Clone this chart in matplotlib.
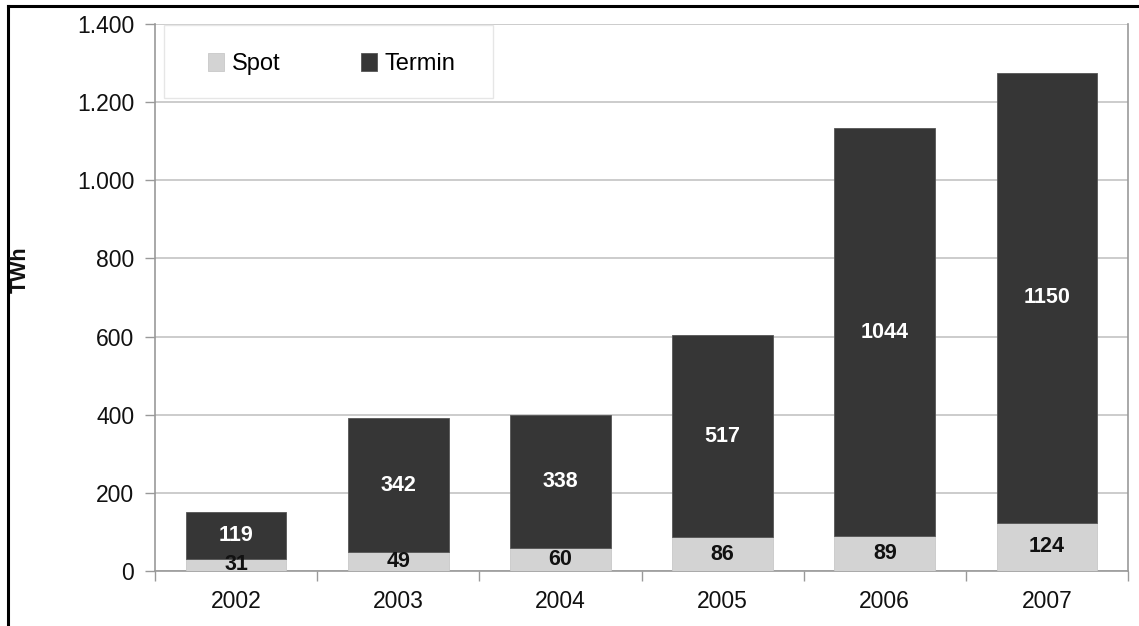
import matplotlib
matplotlib.use("Agg")
import matplotlib.pyplot as plt
from matplotlib.patches import Rectangle
from matplotlib.lines import Line2D
from matplotlib.ticker import FuncFormatter, FixedLocator

years = ["2002", "2003", "2004", "2005", "2006", "2007"]
spot = [31, 49, 60, 86, 89, 124]
termin = [119, 342, 338, 517, 1044, 1150]
yticks = [0, 200, 400, 600, 800, 1000, 1200, 1400]

plt.rcParams['font.family'] = ['Liberation Sans', 'DejaVu Sans']

W, H = 1139, 626
fig = plt.figure(figsize=(W / 100, H / 100), dpi=100)
ax = fig.add_axes([155 / W, 1 - 571 / H, (1128 - 155) / W, (571 - 24) / H])

spot_c = "#d3d3d3"
term_c = "#363636"
x = list(range(len(years)))
bw = 0.62
b1 = ax.bar(x, spot, width=bw, color=spot_c, edgecolor="#c8c8c8", linewidth=0.6, zorder=3, label="Spot")
b2 = ax.bar(x, termin, width=bw, bottom=spot, color=term_c, edgecolor="#555555", linewidth=0.6, zorder=3, label="Termin")

for i in x:
    ax.text(i, spot[i] / 2, str(spot[i]), ha="center", va="center", fontsize=15.5,
            fontweight="bold", color="#111111", zorder=4)
    ax.text(i, spot[i] + termin[i] / 2, str(termin[i]), ha="center", va="center",
            fontsize=15.5, fontweight="bold", color="white", zorder=4)

ax.set_xlim(-0.5, len(years) - 0.5)
ax.set_ylim(0, 1400)
ax.yaxis.set_major_locator(FixedLocator(yticks))
ax.yaxis.set_major_formatter(FuncFormatter(lambda v, p: f"{int(v):,}".replace(",", ".")))
ax.grid(axis="y", color="#c4c4c4", linewidth=1.2, zorder=0)
ax.set_axisbelow(True)

ax.set_xticks(x)
ax.set_xticklabels(years)
ax.tick_params(axis="x", length=0, labelsize=16.5, pad=14, colors="#111111")
ax.set_xticks([i + 0.5 for i in range(-1, len(years))], minor=True)
ax.tick_params(axis="x", which="minor", length=7, width=1, color="#999999")
ax.tick_params(axis="y", length=7, width=1, color="#999999", labelsize=16.5, labelcolor="#111111", pad=8)

for s in ["left", "bottom", "right", "top"]:
    ax.spines[s].set_color("#999999")
    ax.spines[s].set_linewidth(1.2)
ax.spines["top"].set_visible(False)

fig.text(20 / W, 1 - 270 / H, "TWh", rotation=90, ha="center", va="center",
         fontsize=15.5, fontweight="bold", color="#111111")

# legend box
lx0, lx1 = 164, 493
ly0, ly1 = 25, 98
ax_w, ax_h = 1128 - 155, 571 - 24
rect = Rectangle(((lx0 - 155) / ax_w, 1 - (ly1 - 24) / ax_h), (lx1 - lx0) / ax_w, (ly1 - ly0) / ax_h,
                 transform=ax.transAxes, facecolor="white", edgecolor="#e6e6e6", linewidth=1, zorder=5)
ax.add_patch(rect)
leg = ax.legend(handles=[b1, b2], ncol=2, frameon=False, loc="center left",
                bbox_to_anchor=((208 - 155) / ax_w, 1 - (64 - 24) / ax_h),
                fontsize=17, handlelength=0.68, handleheight=0.78, handletextpad=0.33,
                columnspacing=3.4, borderpad=0, borderaxespad=0)
leg.set_zorder(6)

# outer frame lines (left and top)
fig.add_artist(Line2D([8 / W, 8 / W], [0, 1 - 6 / H], color="black", linewidth=2.2, transform=fig.transFigure))
fig.add_artist(Line2D([8 / W, 1], [1 - 6 / H, 1 - 6 / H], color="black", linewidth=2.2, transform=fig.transFigure))

fig.savefig("out.png", dpi=100, facecolor="white")
